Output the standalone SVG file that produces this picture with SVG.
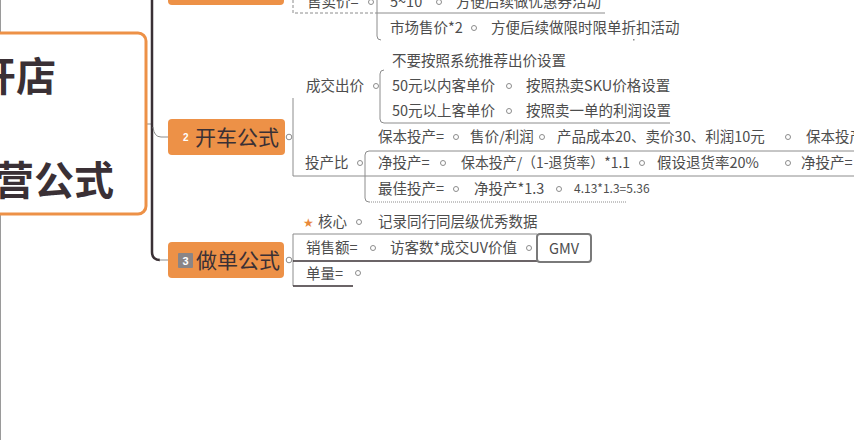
<svg xmlns="http://www.w3.org/2000/svg" width="854" height="440" viewBox="0 0 854 440">
<style>
.t{font-family:"Noto Sans CJK SC","Liberation Sans",sans-serif;font-size:14.5px;fill:#4d4d4d}
.sm{font-size:12px}
.big{font-family:"Noto Sans CJK SC","Liberation Sans",sans-serif;font-size:40px;font-weight:bold;fill:#3a3035}
.nt{font-family:"Noto Sans CJK SC","Liberation Sans",sans-serif;font-size:21px;fill:#3a3035}
.node{fill:#ED9147}
.ln{fill:none;stroke:#8c8c8c;stroke-width:1}
.dk{fill:none;stroke:#3a3035;stroke-width:1.5}
.dot{fill:#fff;stroke:#8c8c8c;stroke-width:1}
</style>
<rect x="0" y="0" width="854" height="440" fill="#ffffff"/>
<line x1="0.5" y1="0" x2="0.5" y2="440" stroke="#9a9a9a" stroke-width="1"/>

<g id="connectors">
  <path d="M146 124 H152" class="ln"/>
  <path d="M152 0 V252 Q152 260 160 260" fill="none" stroke="#3a3035" stroke-width="2.5"/>
  <path d="M159 260 H168" class="ln"/>
  <path d="M153 127 Q154 137 161 137 H168" class="ln"/>
  <path d="M293 0 V13 H377" class="ln" stroke-dasharray="3 2"/>
  <path d="M377 13 H605" class="ln"/>
  <path d="M377 0 V36 Q377 40 381 40" class="ln"/>
  <rect x="633" y="39" width="1.5" height="1.5" fill="#8c8c8c"/>
  <path d="M293 98 V176 H854" class="ln"/>
  <path d="M384 70 Q380 70 380 74 V119 Q380 123 384 123 H670" class="ln"/>
  <path d="M854 151 H369 Q365 151 365 155 V198 Q365 202 369 202" class="ln"/>
  <path d="M369 202 H627" class="ln" stroke-dasharray="1 1"/>
  <path d="M537 234 H293 V286" class="ln"/>
  <path d="M293 261 H537" class="dk"/>
  <path d="M293 286 H353" class="dk"/>
</g>

<g id="center">
  <rect x="-12" y="33" width="158" height="181" rx="8" fill="#fff" stroke="#ED9147" stroke-width="3"/>
  <text x="-24" y="91" class="big">开店</text>
  <text x="-6" y="195" class="big">营公式</text>
</g>

<g id="node1">
  <rect x="168" y="-20" width="116" height="25" rx="4" class="node"/>
</g>

<g id="node2">
  <rect x="168" y="119" width="117" height="36" rx="4" class="node"/>
  <text x="183" y="141" font-family="Liberation Sans,sans-serif" font-size="10" font-weight="bold" fill="#fff">2</text>
  <text x="195" y="145" class="nt">开车公式</text>
  <circle cx="289" cy="137" r="2.8" class="dot"/>
</g>

<g id="node3">
  <rect x="168" y="242" width="116" height="36" rx="4" class="node"/>
  <rect x="178" y="253" width="15" height="15" rx="1" fill="#8a8587"/>
  <text x="185.5" y="265" text-anchor="middle" font-family="Liberation Sans,sans-serif" font-size="11" font-weight="bold" fill="#fff">3</text>
  <text x="196" y="268" class="nt">做单公式</text>
  <circle cx="289" cy="260" r="2.8" class="dot"/>
</g>

<g id="n1-children">
  <text x="307" y="7" class="t">售卖价=</text>
  <circle cx="371" cy="2" r="2.5" class="dot"/>
  <text x="390" y="7" class="t">5~10</text>
  <circle cx="439" cy="2" r="2.5" class="dot"/>
  <text x="456" y="7" class="t">方便后续做优惠券活动</text>
  <text x="390" y="33" class="t">市场售价*2</text>
  <circle cx="474" cy="28" r="2.5" class="dot"/>
  <text x="491" y="33" class="t">方便后续做限时限单折扣活动</text>
</g>

<g id="chengjiao">
  <text x="306" y="91" class="t">成交出价</text>
  <circle cx="376" cy="86" r="2.5" class="dot"/>
  <text x="392" y="66" class="t">不要按照系统推荐出价设置</text>
  <text x="392" y="91" class="t">50元以内客单价</text>
  <circle cx="509" cy="86" r="2.5" class="dot"/>
  <text x="526" y="91" class="t">按照热卖SKU价格设置</text>
  <text x="392" y="116" class="t">50元以上客单价</text>
  <circle cx="509" cy="111" r="2.5" class="dot"/>
  <text x="526" y="116" class="t">按照卖一单的利润设置</text>
</g>

<g id="touchanbi">
  <text x="305" y="168" class="t">投产比</text>
  <circle cx="360" cy="163" r="2.5" class="dot"/>
  <text x="378" y="142" class="t">保本投产=</text>
  <circle cx="456" cy="137" r="2.5" class="dot"/>
  <text x="470" y="142" class="t">售价/利润</text>
  <circle cx="542" cy="137" r="2.5" class="dot"/>
  <text x="557" y="142" class="t">产品成本20、卖价30、利润10元</text>
  <circle cx="788" cy="137" r="2.5" class="dot"/>
  <text x="806" y="142" class="t">保本投产</text>
  <text x="378" y="168" class="t">净投产=</text>
  <circle cx="443" cy="163" r="2.5" class="dot"/>
  <text x="461" y="168" class="t" textLength="169" lengthAdjust="spacingAndGlyphs">保本投产/（1-退货率）*1.1</text>
  <circle cx="642" cy="163" r="2.5" class="dot"/>
  <text x="657" y="168" class="t">假设退货率20%</text>
  <circle cx="788" cy="163" r="2.5" class="dot"/>
  <text x="801" y="168" class="t">净投产=</text>
  <text x="378" y="194" class="t">最佳投产=</text>
  <circle cx="456" cy="189" r="2.5" class="dot"/>
  <text x="474" y="194" class="t">净投产*1.3</text>
  <circle cx="559" cy="189" r="2.5" class="dot"/>
  <text x="574" y="193" class="t sm">4.13*1.3=5.36</text>
</g>

<g id="n3-children">
  <text x="303" y="227" font-family="DejaVu Sans,sans-serif" font-size="12" fill="#E8883A">★</text>
  <text x="318" y="227" class="t">核心</text>
  <circle cx="359" cy="222" r="2.5" class="dot"/>
  <text x="378" y="227" class="t">记录同行同层级优秀数据</text>
  <text x="306" y="253" class="t">销售额=</text>
  <circle cx="373" cy="248" r="2.5" class="dot"/>
  <text x="390" y="253" class="t">访客数*成交UV价值</text>
  <circle cx="529" cy="248" r="2.5" class="dot"/>
  <text x="306" y="279" class="t">单量=</text>
  <circle cx="358" cy="273" r="2.5" class="dot"/>
</g>

<g id="gmv">
  <rect x="537" y="234" width="54" height="28" rx="3" fill="#fff" stroke="#7a7a7a" stroke-width="2"/>
  <text x="564" y="254" text-anchor="middle" class="t" font-size="15">GMV</text>
</g>
</svg>
